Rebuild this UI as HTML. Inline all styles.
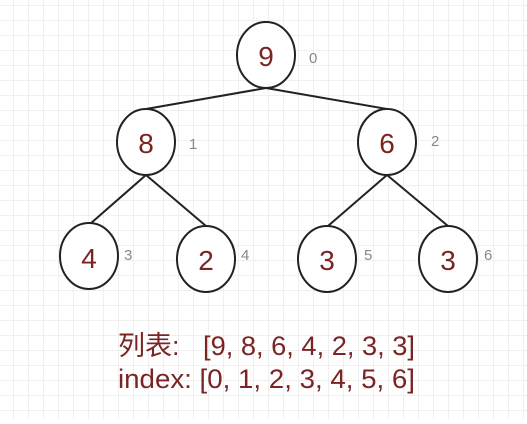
<!DOCTYPE html>
<html><head><meta charset="utf-8"><style>
body{margin:0;width:527px;height:419px;overflow:hidden;background:#fff}
</style></head><body>
<svg width="527" height="419" xmlns="http://www.w3.org/2000/svg">
<defs><pattern id="g" x="13" y="5" width="15" height="15" patternUnits="userSpaceOnUse">
<path d="M0 0H15M0 0V15" stroke="#e2e2e2" stroke-width="1" fill="none"/></pattern></defs>
<rect width="527" height="419" fill="url(#g)"/>
<g stroke="#222" stroke-width="2" fill="none">
<line x1="266" y1="88" x2="146" y2="109"/><line x1="266" y1="88" x2="387" y2="109"/>
<line x1="146" y1="175" x2="90" y2="224"/><line x1="146" y1="175" x2="206" y2="226"/>
<line x1="387" y1="175" x2="328" y2="226"/><line x1="387" y1="175" x2="448" y2="226"/>
</g>
<g stroke="#222" stroke-width="2" fill="#fff">
<ellipse cx="266" cy="55" rx="29" ry="33"/>
<ellipse cx="146" cy="142" rx="29" ry="33"/>
<ellipse cx="387" cy="142" rx="29" ry="33"/>
<ellipse cx="89" cy="256" rx="29" ry="33"/>
<ellipse cx="206" cy="259" rx="29" ry="33"/>
<ellipse cx="327" cy="259" rx="29" ry="33"/>
<ellipse cx="448" cy="259" rx="29" ry="33"/>
</g>
<g font-family="Liberation Sans, sans-serif" font-size="28" fill="#7a2424" text-anchor="middle">
<text x="266" y="66">9</text><text x="146" y="153">8</text><text x="387" y="153">6</text>
<text x="89" y="268">4</text><text x="206" y="270">2</text><text x="327" y="270">3</text><text x="448" y="270">3</text>
</g>
<g font-family="Liberation Sans, sans-serif" font-size="15" fill="#888">
<text x="309" y="63">0</text><text x="189" y="149">1</text><text x="431" y="146">2</text>
<text x="124" y="260">3</text><text x="241" y="260">4</text><text x="364" y="260">5</text><text x="484" y="260">6</text>
</g>
<g font-family="Liberation Sans, 'Noto Sans CJK SC', sans-serif" font-size="27" fill="#7a2424">
<text x="118" y="355">列表:</text><text x="203" y="355" textLength="212" lengthAdjust="spacingAndGlyphs">[9, 8, 6, 4, 2, 3, 3]</text>
<text x="118" y="388" textLength="297" lengthAdjust="spacingAndGlyphs">index: [0, 1, 2, 3, 4, 5, 6]</text>
</g>
</svg>
</body></html>
